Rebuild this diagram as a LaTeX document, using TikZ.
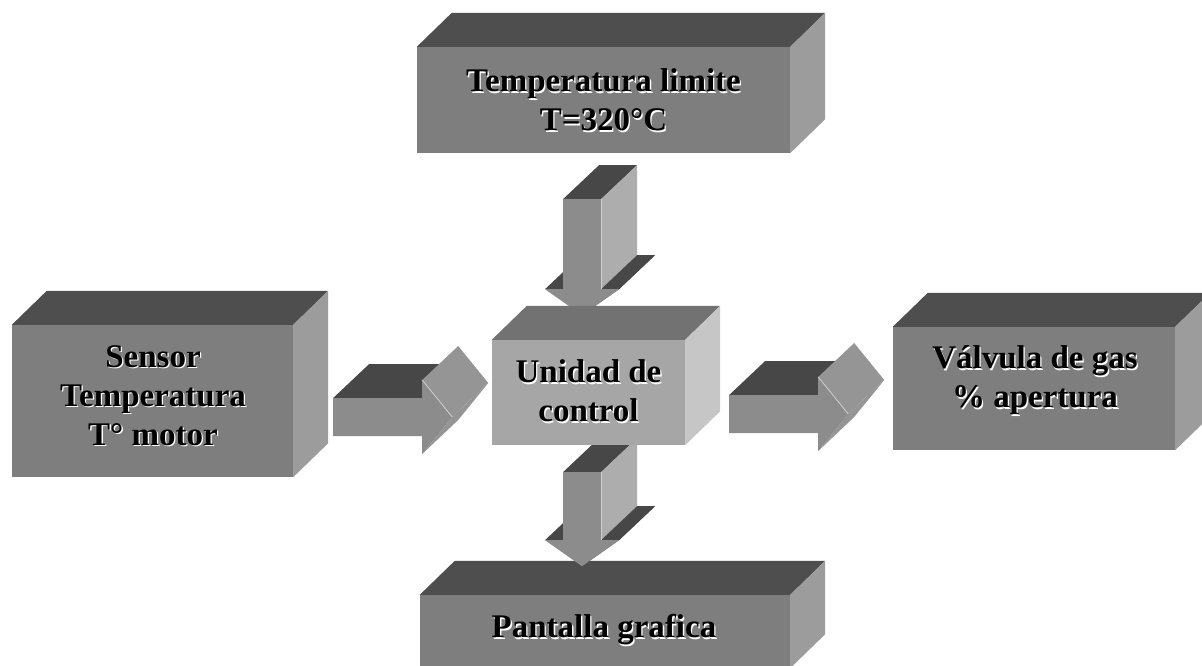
\documentclass[tikz,border=0pt]{standalone}
\usepackage{fontspec}
\setmainfont{Liberation Serif}
\usetikzlibrary{calc}
\definecolor{bfront}{HTML}{7E7E7E}
\definecolor{btop}{HTML}{4E4E4E}
\definecolor{bside}{HTML}{9C9C9C}
\definecolor{ufront}{HTML}{A6A6A6}
\definecolor{utop}{HTML}{727272}
\definecolor{uside}{HTML}{C6C6C6}
\definecolor{afront}{HTML}{8C8C8C}
\definecolor{adark}{HTML}{474747}
\definecolor{aside}{HTML}{ADADAD}
\definecolor{ahead}{HTML}{959595}
\definecolor{aedge}{HTML}{CFCFCF}
\pgfdeclarelayer{bottomlayer}
\pgfdeclarelayer{backlayer}
\pgfsetlayers{bottomlayer,backlayer,main}
\tikzset{
  boxface/.style={draw=none, rectangle, inner sep=0pt},
  lbl/.style={font=\fontsize{33}{39}\selectfont\bfseries, align=center, text=black, inner sep=0pt},
  lblshadow/.style={lbl, text=white}
}
% 3D box: name, center, width, height, front, top, side
\newcommand{\boxthree}[7]{%
  \node[boxface, fill=#5, minimum width=#3, minimum height=#4] (#1) at #2 {};
  \fill[#6] (#1.north west) -- (#1.north east) -- ++(35,-34) -- ($(#1.north west)+(35,-34)$) -- cycle;
  \fill[#7] (#1.north east) -- (#1.south east) -- ++(35,-34) -- ($(#1.north east)+(35,-34)$) -- cycle;
}
% label with light halo: name, position, text
\newcommand{\boxlabel}[3]{%
  \node[lblshadow] at ($#2+(1.3,1.3)$) {#3};
  \node[lbl] (#1) at #2 {#3};
}
% 3D arrow pointing right, starting at named coordinate
\newcommand{\rarrow}[1]{%
  \begin{scope}[shift={(#1)}]
    \fill[adark] (0,0) -- (89,0) -- (125,-34) -- (36,-34) -- cycle;
    \fill[ahead] (89,-18) -- (119,19) -- (155,-15) -- (125,-52) -- cycle;
    \fill[ahead] (119,19) -- (89,56) -- (125,22) -- (155,-15) -- cycle;
    \fill[afront] (0,0) -- (89,0) -- (89,-18) -- (119,19) -- (89,56) -- (89,38) -- (0,38) -- cycle;
    \draw[aedge, line width=0.8pt] (89,-18) -- (119,19);
  \end{scope}}
% 3D arrow pointing down, starting at named coordinate, shaft length
\newcommand{\darrow}[2]{%
  \begin{scope}[shift={(#1)}]
    \fill[adark] (0,0) -- (38,0) -- (74,-34) -- (36,-34) -- cycle;
    \fill[aside] (38,0) -- (38,#2) -- (74,#2-34) -- (74,-34) -- cycle;
    \fill[adark] (-18,#2) -- (0,#2) -- (36,#2-34) -- (18,#2-34) -- cycle;
    \fill[adark] (38,#2) -- (56,#2) -- (92,#2-34) -- (74,#2-34) -- cycle;
    \fill[adark] (56,#2) -- (19,#2+26) -- (55,#2-8) -- (92,#2-34) -- cycle;
    \fill[afront] (0,0) -- (38,0) -- (38,#2) -- (56,#2) -- (19,#2+26) -- (-18,#2) -- (0,#2) -- cycle;
    \draw[aedge, line width=0.8pt] (38,0) -- (38,#2);
  \end{scope}}
\begin{document}
\begin{tikzpicture}[x=1pt, y=-1pt]
  \begin{pgfonlayer}{bottomlayer}
    \fill[white] (0,0) rectangle (1202,666);
  \end{pgfonlayer}
  \useasboundingbox (0,0) rectangle (1202,666);

  % boxes
  \boxthree{tl}{(603.5,100)}{373pt}{106pt}{bfront}{btop}{bside}
  \boxthree{sensor}{(152.5,401)}{281pt}{152pt}{bfront}{btop}{bside}
  \boxthree{uc}{(588.5,392.5)}{193pt}{105pt}{ufront}{utop}{uside}
  \boxthree{valv}{(1034,388.5)}{282pt}{123pt}{bfront}{btop}{bside}
  \begin{pgfonlayer}{bottomlayer}
    \boxthree{pant}{(605,631.5)}{370pt}{73pt}{bfront}{btop}{bside}
  \end{pgfonlayer}

  % arrow anchor coordinates
  \coordinate (a1) at ($(sensor.east)+(40,-3)$);
  \coordinate (a2) at ($(tl.south)+(-40.5,46)$);
  \coordinate (a3) at ($(uc.east)+(44,2.5)$);
  \coordinate (a4) at ($(uc.south)+(-25.5,27)$);

  \begin{pgfonlayer}{backlayer}
    \rarrow{a1}
    \rarrow{a3}
    \darrow{a2}{90}
    \darrow{a4}{68}
  \end{pgfonlayer}

  % labels
  \boxlabel{tltext}{(tl.center)}{Temperatura limite\\T=320°C}
  \boxlabel{sensortext}{($(sensor.center)+(0.5,-5.5)$)}{Sensor\\Temperatura\\T° motor}
  \boxlabel{uctext}{($(uc.center)+(0,-1.5)$)}{Unidad de\\control}
  \boxlabel{valvtext}{($(valv.center)+(1,-8)$)}{Válvula de gas\\\% apertura}
  \boxlabel{panttext}{($(pant.center)+(-1,-1.5)$)}{Pantalla grafica}
\end{tikzpicture}
\end{document}
